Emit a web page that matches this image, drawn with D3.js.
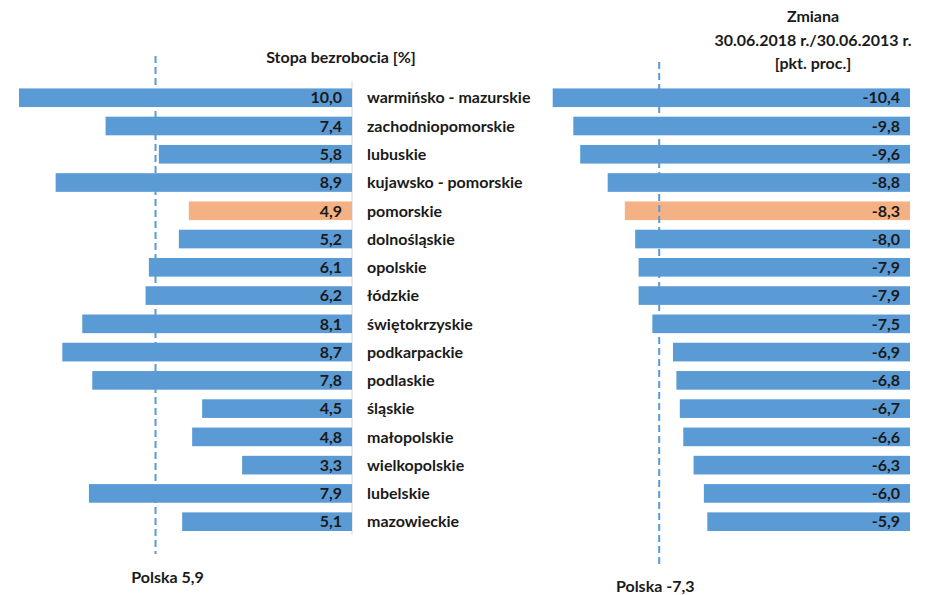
<!DOCTYPE html>
<html><head><meta charset="utf-8">
<script src="https://cdn.jsdelivr.net/npm/d3@7"></script>
<style>body{margin:0;background:#fff}svg{display:block}text{font-family:Lato,"Open Sans",sans-serif;font-weight:bold;fill:#1a1a1a}</style>
</head><body><svg id="c" width="930" height="595"></svg>
<script>
const regions = ["warmińsko - mazurskie","zachodniopomorskie","lubuskie","kujawsko - pomorskie","pomorskie","dolnośląskie","opolskie","łódzkie","świętokrzyskie","podkarpackie","podlaskie","śląskie","małopolskie","wielkopolskie","lubelskie","mazowieckie"];
const rate = [10.0,7.4,5.8,8.9,4.9,5.2,6.1,6.2,8.1,8.7,7.8,4.5,4.8,3.3,7.9,5.1];
const change = [-10.4,-9.8,-9.6,-8.8,-8.3,-8.0,-7.9,-7.9,-7.5,-6.9,-6.8,-6.7,-6.6,-6.3,-6.0,-5.9];
const highlight = "pomorskie";
const polandRate = 5.9, polandChange = -7.3;
const titleLeft = "Stopa bezrobocia [%]";
const titleRight = ["Zmiana","30.06.2018 r./30.06.2013 r.","[pkt. proc.]"];

const svg = d3.select("#c");
const blue = "#5B9BD5", orange = "#F4B183";
const fmt = v => d3.format(".1f")(v).replace(".", ",").replace("−","-");
const fs = "16px";

const y = d3.scaleBand().domain(regions).range([83.6, 535.8]).paddingInner(0.34).paddingOuter(0.17);
const xL = d3.scaleLinear().domain([0, 10]).range([352, 19]);
const xR = d3.scaleLinear().domain([0, -10.4]).range([910, 552.7]);

// left panel
svg.append("line").attr("x1",352).attr("x2",352).attr("y1",81).attr("y2",535).attr("stroke","#d9d9d9").attr("stroke-width",1);
svg.selectAll("rect.l").data(regions).join("rect").attr("class","l")
  .attr("x",(d,i)=>xL(rate[i])).attr("width",(d,i)=>xL(0)-xL(rate[i]))
  .attr("y",d=>y(d)).attr("height",y.bandwidth())
  .attr("fill",d=>d===highlight?orange:blue);
svg.selectAll("text.lv").data(regions).join("text").attr("class","lv")
  .attr("x",342).attr("y",d=>y(d)+y.bandwidth()/2).attr("dy","0.36em")
  .attr("text-anchor","end").style("font-size",fs).text((d,i)=>fmt(rate[i]));
svg.selectAll("text.cat").data(regions).join("text").attr("class","cat")
  .attr("x",367).attr("y",d=>y(d)+y.bandwidth()/2).attr("dy","0.36em")
  .style("font-size",fs).text(d=>d);
svg.append("line").attr("x1",xL(polandRate)).attr("x2",xL(polandRate)).attr("y1",56).attr("y2",554)
  .attr("stroke",blue).attr("stroke-width",2).attr("stroke-dasharray","7,4");
svg.append("text").attr("x",xL(polandRate)+12).attr("y",583).attr("text-anchor","middle").style("font-size",fs).text("Polska "+fmt(polandRate));
svg.append("text").attr("x",341).attr("y",63).attr("text-anchor","middle").style("font-size",fs).text(titleLeft);

// right panel
svg.selectAll("rect.r").data(regions).join("rect").attr("class","r")
  .attr("x",(d,i)=>xR(change[i])).attr("width",(d,i)=>xR(0)-xR(change[i]))
  .attr("y",d=>y(d)).attr("height",y.bandwidth())
  .attr("fill",d=>d===highlight?orange:blue);
svg.selectAll("text.rv").data(regions).join("text").attr("class","rv")
  .attr("x",900).attr("y",d=>y(d)+y.bandwidth()/2).attr("dy","0.36em")
  .attr("text-anchor","end").style("font-size",fs).text((d,i)=>fmt(change[i]));
svg.append("line").attr("x1",xR(polandChange)).attr("x2",xR(polandChange)).attr("y1",62).attr("y2",564)
  .attr("stroke",blue).attr("stroke-width",2).attr("stroke-dasharray","7,4");
svg.append("text").attr("x",xR(polandChange)-4).attr("y",592).attr("text-anchor","middle").style("font-size",fs).text("Polska "+fmt(polandChange));
svg.selectAll("text.rt").data(titleRight).join("text").attr("class","rt")
  .attr("x",813).attr("y",(d,i)=>22+i*23.5).attr("text-anchor","middle").style("font-size",fs).text(d=>d);
</script></body></html>
